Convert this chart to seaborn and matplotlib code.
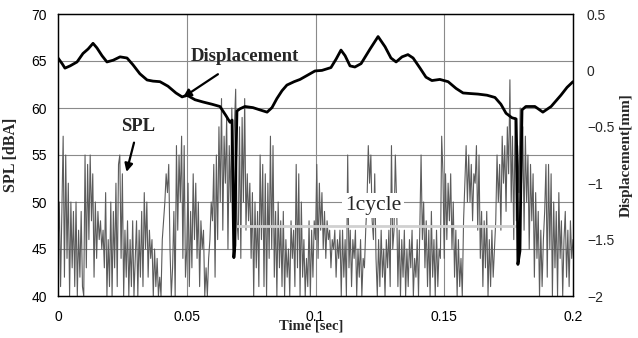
import numpy as np
import pandas as pd
import matplotlib
matplotlib.use("Agg")
import matplotlib.pyplot as plt
import seaborn as sns

# ---------------- data ----------------
spl_dt = 0.0005  # sampling step of the SPL trace [s]
spl_rows = [
    [45,50,41,49,57,42,55,44,52,40,50,43,49,41,50,40,47,42,49,41],
    [40,55,43,54,46,55,48,53,42,50,44,49,46,48,45,47,43,51,40,46],
    [41,50,40,49,43,52,41,54,55,44,53,40,47,42,48,40,46,41,48,40],
    [44,48,40,47,42,49,41,51,45,50,42,47,44,46,40,45,41,44,40,42],
    [40,46,48,50,53,51,54,45,40,43,49,40,56,47,55,50,57,44,56,42],
    [45,52,41,49,43,53,46,52,44,50,41,48,45,47,40,43,40,44,46,50],
    [48,54,42,55,46,58,50,61,47,57,52,59,45,56,50,60,53,58,62,48],
    [46,58,44,59,50,61,47,53,48,52,44,51,40,50,43,49,41,55,46,54],
    [41,53,40,52,44,57,45,56,42,49,40,50,43,48,41,49,40,46,42,45],
    [40,48,44,47,41,54,43,53,40,50,42,46,40,44,41,48,40,47,42,48],
    [46,54,44,52,47,51,45,49,44,48,46,47,43,46,45,47,42,46,44,47],
    [40,47,42,46,40,55,43,47,41,46,44,47,40,45,42,46,40,44,43,47],
    [50,56,52,55,48,46,53,44,40,46,41,47,42,45,40,46,43,47,41,56],
    [45,47,55,50,41,47,40,46,42,47,40,45,41,46,43,47,40,44,42,46],
    [40,47,55,46,50,43,48,41,47,40,49,42,46,40,47,41,45,44,57,53],
    [44,53,46,52,48,53,45,50,42,47,40,46,41,44,40,48,52,56,50,55],
    [50,54,48,53,52,56,47,55,44,49,41,48,43,49,40,46,41,47,42,45],
    [48,55,50,54,47,57,52,56,49,58,53,63,50,57,46,59,48,56,51,60],
    [52,58,47,57,50,55,45,54,48,53,42,51,44,49,40,47,41,46,49,54],
    [42,54,45,53,40,50,43,49,40,51,44,48,40,46,49,42,47,41,48,44],
    [46],
]
spl_values = [v for row in spl_rows for v in row]
spl_time = [round(i * spl_dt, 4) for i in range(len(spl_values))]

disp_time = [0.0000, 0.0016, 0.0027, 0.0047, 0.0074, 0.0097, 0.0117, 0.0136, 0.0151,
             0.0171, 0.0190, 0.0214, 0.0241, 0.0268, 0.0291, 0.0318, 0.0346, 0.0369,
             0.0396, 0.0427, 0.0458, 0.0482, 0.0501, 0.0532, 0.0563, 0.0598, 0.0629,
             0.0652, 0.0668, 0.0676, 0.0680, 0.0683, 0.0687, 0.0691, 0.0695, 0.0707,
             0.0726, 0.0757, 0.0784, 0.0812, 0.0831, 0.0850, 0.0870, 0.0889, 0.0917,
             0.0940, 0.0971, 0.0998, 0.1025, 0.1060, 0.1080, 0.1099, 0.1115, 0.1134,
             0.1153, 0.1177, 0.1212, 0.1243, 0.1270, 0.1293, 0.1313, 0.1336, 0.1359,
             0.1379, 0.1406, 0.1429, 0.1452, 0.1483, 0.1515, 0.1546, 0.1573, 0.1600,
             0.1631, 0.1666, 0.1697, 0.1720, 0.1740, 0.1763, 0.1779, 0.1783, 0.1786,
             0.1794, 0.1798, 0.1802, 0.1817, 0.1852, 0.1883, 0.1915, 0.1953, 0.1977,
             0.2000]
disp_values = [0.11, 0.06, 0.02, 0.04, 0.075, 0.15, 0.19, 0.24, 0.20,
               0.13, 0.075, 0.09, 0.12, 0.11, 0.05, -0.03, -0.085, -0.095,
               -0.10, -0.14, -0.20, -0.235, -0.22, -0.26, -0.28, -0.30, -0.32,
               -0.40, -0.46, -0.44, -1.20, -1.66, -1.55, -0.80, -0.36, -0.34,
               -0.32, -0.33, -0.35, -0.37, -0.33, -0.25, -0.18, -0.13, -0.10,
               -0.08, -0.04, -0.005, 0.0, 0.025, 0.10, 0.18, 0.13, 0.04,
               0.03, 0.06, 0.19, 0.30, 0.21, 0.11, 0.075, 0.12, 0.14,
               0.11, 0.02, -0.06, -0.09, -0.08, -0.10, -0.16, -0.20, -0.205,
               -0.21, -0.22, -0.24, -0.30, -0.38, -0.42, -0.43, -0.90, -1.72,
               -1.60, -0.90, -0.35, -0.32, -0.32, -0.37, -0.32, -0.22, -0.15,
               -0.10]

x_ticks = [0, 0.05, 0.1, 0.15, 0.2]
x_ticklabels = ["0", "0.05", "0.1", "0.15", "0.2"]
spl_ticks = [40, 45, 50, 55, 60, 65, 70]
disp_ticks = [-2, -1.5, -1, -0.5, 0, 0.5]
disp_ticklabels = ["\u22122", "\u22121.5", "\u22121", "\u22120.5", "0", "0.5"]
cycle_start, cycle_end, cycle_level = 0.0680, 0.1786, 47.4

# ---------------- plot ----------------
sns.set_style("white")
plt.rcParams['font.family'] = ['Liberation Sans', 'DejaVu Sans']
serif = ['Liberation Serif', 'DejaVu Serif']

fig = plt.figure(figsize=(6.38, 3.38), dpi=100)
ax = fig.add_axes([58/638, 1-296/338, (573-58)/638, (296-14)/338])

spl_df = pd.DataFrame({"t": spl_time, "spl": spl_values})
disp_df = pd.DataFrame({"t": disp_time, "d": disp_values})

# grid
for yv in [45, 50, 55, 60, 65]:
    ax.axhline(yv, color="#8a8a8a", lw=0.8, zorder=0)
for xv in [0.05, 0.1, 0.15]:
    ax.axvline(xv, color="#8a8a8a", lw=0.8, zorder=0)

sns.lineplot(data=spl_df, x="t", y="spl", ax=ax, color="#5c5c5c", lw=0.8,
             estimator=None, zorder=2)
ax.set_xlim(0, 0.2)
ax.set_ylim(40, 70)
ax.set_xticks(x_ticks)
ax.set_xticklabels(x_ticklabels)
ax.set_yticks(spl_ticks)
ax.tick_params(axis="both", length=0, labelsize=10, colors="black")
ax.tick_params(axis="y", pad=8)
ax.tick_params(axis="x", pad=10)
ax.set_xlabel("")
ax.set_ylabel("SPL [dBA]", family=serif, fontweight="bold", fontsize=11.5, labelpad=9)

ax2 = ax.twinx()
sns.lineplot(data=disp_df, x="t", y="d", ax=ax2, color="black", lw=2.0,
             estimator=None, sort=False, zorder=3)
ax2.set_ylim(-2, 0.5)
ax2.set_yticks(disp_ticks)
ax2.set_yticklabels(disp_ticklabels)
ax2.tick_params(axis="y", length=0, labelsize=10, pad=10)
ax2.set_ylabel("Displacement[mm]", family=serif, fontweight="bold", fontsize=11,
               labelpad=4)
ax2.set_xlabel("")
ax2.grid(False)

for a in (ax, ax2):
    for s in a.spines.values():
        s.set_color("black")
        s.set_linewidth(0.9)

# 1 cycle indicator
ax.plot([cycle_start, cycle_end], [cycle_level, cycle_level], color="#d0d0d0",
        lw=2.0, zorder=4)
ax.text(0.1223, 49.6, "1cycle", family=serif, fontsize=15.5, ha="center", va="center",
        zorder=5, bbox=dict(facecolor="white", edgecolor="none", pad=2))

# annotations
ax2.annotate("Displacement", xy=(0.0485, -0.24), xytext=(0.0726, 0.125),
             family=serif, fontweight="bold", fontsize=13.5, ha="center", va="center",
             arrowprops=dict(arrowstyle="-|>", color="black", lw=1.6, mutation_scale=12,
                             shrinkA=8, shrinkB=0), zorder=6)
ax.annotate("SPL", xy=(0.0266, 53.2), xytext=(0.0311, 58.0),
            family=serif, fontweight="bold", fontsize=13.5, ha="center", va="center",
            arrowprops=dict(arrowstyle="-|>", color="black", lw=1.6, mutation_scale=12,
                            shrinkA=3, shrinkB=0), zorder=6)

fig.text(311/638, 1-326/338, "Time [sec]", family=serif, fontweight="bold",
         fontsize=10.5, ha="center", va="center")

fig.savefig("out.png", dpi=100)
